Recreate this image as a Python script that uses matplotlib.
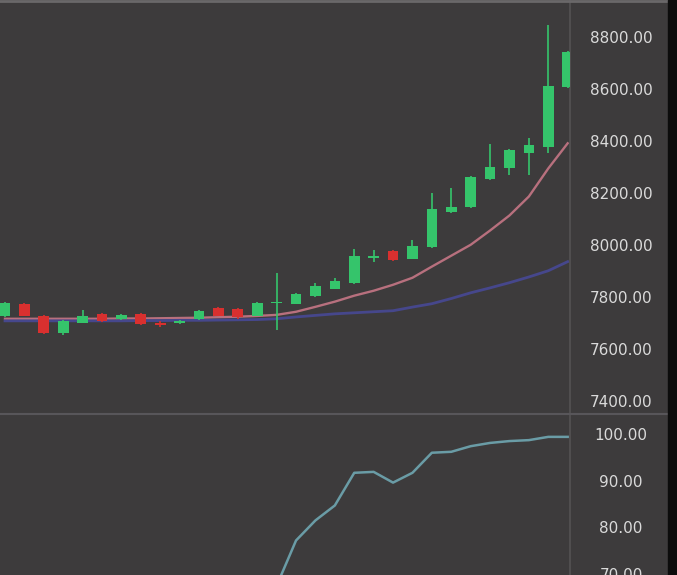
import numpy as np
import matplotlib
matplotlib.use("Agg")
import matplotlib.pyplot as plt

# ---- data ----
opens  = [7725, 7773, 7727, 7661, 7700, 7735, 7715, 7735, 7700, 7700, 7715, 7757, 7754, 7727,
          7775, 7773, 7804, 7831, 7854, 7950, 7975, 7947, 7990, 8128, 8144, 8252, 8294, 8352, 8375, 8607]
closes = [7777, 7727, 7661, 7707, 7727, 7708, 7730, 7695, 7692, 7705, 7745, 7727, 7720, 7777,
          7780, 7812, 7842, 7862, 7958, 7955, 7940, 7997, 8136, 8147, 8260, 8298, 8364, 8383, 8611, 8742]
highs  = [7780, 7776, 7730, 7712, 7750, 7738, 7734, 7738, 7708, 7712, 7748, 7760, 7757, 7780,
          7890, 7816, 7852, 7872, 7985, 7978, 7978, 8020, 8200, 8217, 8265, 8390, 8368, 8410, 8846, 8745]
lows   = [7722, 7724, 7656, 7652, 7697, 7704, 7712, 7690, 7685, 7695, 7712, 7724, 7716, 7724,
          7670, 7770, 7800, 7828, 7850, 7932, 7936, 7944, 7986, 8124, 8140, 8248, 8270, 8270, 8352, 8604]
ma_fast = [7715, 7715, 7715, 7715, 7715, 7715, 7716, 7716, 7717, 7718, 7719, 7721, 7723, 7726,
           7730, 7742, 7761, 7781, 7804, 7823, 7846, 7873, 7916, 7958, 8000, 8055, 8113, 8186, 8294, 8391]
ma_slow = [7707, 7707, 7707, 7707, 7707, 7707, 7707, 7708, 7708, 7709, 7709, 7710, 7711, 7712,
           7715, 7722, 7728, 7734, 7738, 7742, 7746, 7760, 7773, 7793, 7815, 7834, 7854, 7876, 7900, 7935]
osc = [np.nan] * 14 + [67.5, 77.2, 81.5, 84.7, 91.7, 91.9, 89.6, 91.7, 96.0, 96.2, 97.4, 98.1, 98.5, 98.7, 99.4, 99.4]

price_ticks = [7400, 7600, 7800, 8000, 8200, 8400, 8600, 8800]
osc_ticks = [70, 80, 90, 100]

# ---- style ----
BG = "#3d3b3c"
UP = "#35c46b"
DOWN = "#d9302f"
TXT = "#dadada"
W, H = 677, 575

fig = plt.figure(figsize=(W / 100, H / 100), dpi=100, facecolor=BG)

def px_axes(x0, y0, x1, y1):
    return fig.add_axes([x0 / W, 1 - y1 / H, (x1 - x0) / W, (y1 - y0) / H])

ax = px_axes(0, 0, 570, 413)
ax2 = px_axes(0, 414, 570, 575)

for a in (ax, ax2):
    a.set_facecolor(BG)
    for s in a.spines.values():
        s.set_visible(False)
    a.spines["right"].set_visible(True)
    a.spines["right"].set_color("#545254")
    a.spines["right"].set_linewidth(1.2)
    a.yaxis.tick_right()
    a.tick_params(axis="y", length=0, pad=36.7, labelsize=11, labelcolor=TXT)
    a.set_xticks([])
    a.set_xlim(-0.258, 29.12)

x = np.arange(len(opens))
o = np.array(opens); c = np.array(closes)
colors = [UP if cc >= oo else DOWN for oo, cc in zip(o, c)]
ax.vlines(x, lows, highs, colors=colors, linewidth=1.2, zorder=3)
body_bottom = np.minimum(o, c)
body_h = np.maximum(np.abs(c - o), 5)
ax.bar(x, body_h, bottom=body_bottom, width=0.55, color=colors, zorder=4, linewidth=0)
ax.plot(x, ma_fast, color="#b8707e", linewidth=1.7, zorder=2)
ax.plot(x, ma_slow, color="#46478c", linewidth=2.0, zorder=2)
ax.set_ylim(7352, 8943)
ax.set_yticks(price_ticks)
ax.set_yticklabels([f"{v:.2f}" for v in price_ticks])
for lab in ax.get_yticklabels():
    lab.set_ha("center")

ax2.plot(x, osc, color="#6a9ca6", linewidth=1.8)
ax2.set_ylim(69.8, 104.3)
ax2.set_yticks(osc_ticks)
ax2.set_yticklabels([f"{v:.2f}" for v in osc_ticks])
for lab in ax2.get_yticklabels():
    lab.set_ha("center")

# separator and frame strips
fig.add_artist(plt.Line2D([0, 1], [1 - 413.5 / H] * 2, color="#58565a", linewidth=1.5))
fig.add_artist(plt.Line2D([0, 1], [1 - 1 / H] * 2, color="#6a686a", linewidth=2))
fig.add_artist(plt.Rectangle((668 / W, 0), 9 / W, 1, color="#0c0c0c", zorder=10))

fig.savefig("out.png", dpi=100, facecolor=BG)
